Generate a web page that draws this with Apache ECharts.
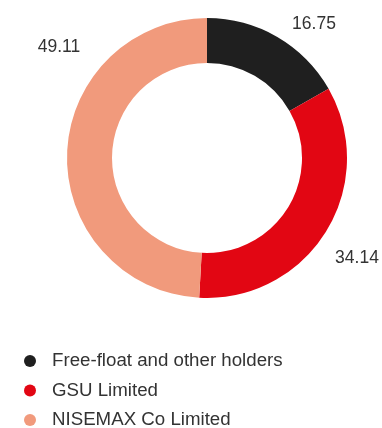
<!DOCTYPE html>
<html><head><meta charset="utf-8">
<script src="https://cdn.jsdelivr.net/npm/echarts@6/dist/echarts.min.js"></script>
<style>html,body{margin:0;padding:0;background:#fff}#c{width:382px;height:428px}</style>
</head><body><div id="c"></div>
<script>
const categories = ['Free-float and other holders', 'GSU Limited', 'NISEMAX Co Limited'];
const values = [16.75, 34.14, 49.11];
const colors = ['#1f1f1f', '#e20613', '#f19a7c'];
const labelPos = [[314, 24], [357, 258], [59, 47]];

const chart = echarts.init(document.getElementById('c'));
chart.setOption({
  animation: false,
  color: colors,
  legend: {
    orient: 'vertical', left: 19, top: 346, height: 120,
    icon: 'circle', itemWidth: 12, itemHeight: 12, itemGap: 9.5,
    textStyle: { fontFamily: 'Liberation Sans, Arial, sans-serif', fontSize: 18.7, lineHeight: 20, color: '#333', padding: [0, 0, 0, 11] },
    data: categories
  },
  series: [{
    type: 'pie',
    center: [207, 158],
    radius: [95, 140],
    startAngle: 90,
    clockwise: true,
    avoidLabelOverlap: false,
    label: {
      show: true, position: 'outside',
      formatter: p => p.value.toFixed(2),
      fontFamily: 'Liberation Sans, Arial, sans-serif', fontSize: 17.5, color: '#333'
    },
    labelLine: { show: false },
    labelLayout: p => ({ x: labelPos[p.dataIndex][0], y: labelPos[p.dataIndex][1], align: 'center', verticalAlign: 'middle', hideOverlap: false }),
    emphasis: { disabled: true },
    data: categories.map((n, i) => ({ name: n, value: values[i] }))
  }]
});
</script></body></html>
